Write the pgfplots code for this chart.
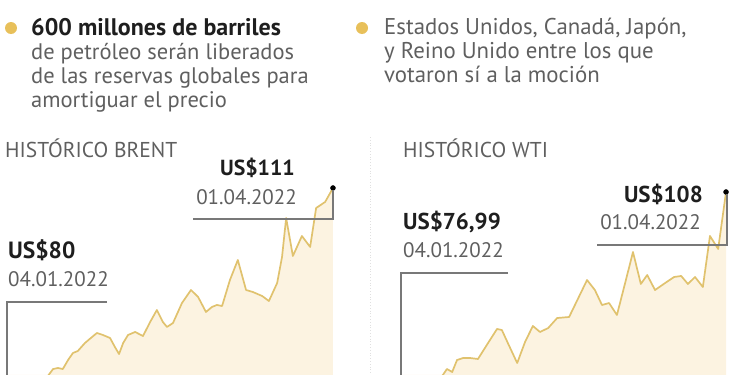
\documentclass[border=0pt]{standalone}
\usepackage{pgfplots}
\pgfplotsset{compat=1.18}
\usepackage{fontspec}
\setmainfont{PT Sans}
\definecolor{gold}{RGB}{224,194,110}
\definecolor{cream}{RGB}{252,243,225}
\definecolor{bullet}{RGB}{232,192,90}
\definecolor{txtgray}{RGB}{95,95,95}
\definecolor{txtdark}{RGB}{30,30,30}
\definecolor{rule}{RGB}{120,120,120}

\pgfplotstableread{
day price
0 80.00
6.1 81.07
10.7 83.41
12.3 84.57
13.6 84.72
14.9 84.57
16.3 85.89
17.6 86.91
18.9 87.20
20.8 88.37
22.7 89.25
24.0 89.83
25.6 89.54
27.5 89.10
28.8 87.79
29.9 86.76
31.0 88.37
32.3 89.54
34.2 89.98
36.3 89.39
38.2 91.44
40.0 93.19
41.6 91.44
42.7 90.71
44.3 91.29
46.7 94.21
49.1 96.11
51.0 95.09
53.1 92.90
54.7 93.63
56.0 93.92
57.4 93.77
59.5 97.57
61.6 100.49
63.8 96.11
65.6 95.82
68.1 95.23
69.9 94.50
72.1 97.13
73.4 100.93
74.5 106.62
76.3 101.07
78.7 103.99
80.9 102.39
82.5 108.08
84.9 108.96
87.0 111.00
}\brent

\pgfplotstableread{
day price
0 76.99
6.4 78.80
11.2 81.28
12.3 82.16
13.7 81.72
15.0 83.47
16.6 83.76
18.5 83.76
20.6 83.62
23.3 85.95
25.7 88.00
27.0 87.85
28.6 85.95
31.1 83.03
33.2 86.10
35.3 88.44
37.2 87.56
39.4 88.14
41.8 89.60
45.0 89.75
49.8 95.15
51.9 93.69
53.8 91.50
55.7 91.79
57.8 90.04
60.2 95.15
62.1 99.24
64.2 94.57
65.9 95.88
68.0 93.69
70.7 94.71
73.1 95.59
75.0 95.74
76.8 94.57
78.7 95.59
80.8 94.13
82.7 101.58
84.9 99.68
87.0 108.00
}\wti

\begin{document}
\begin{tikzpicture}
% Brent data
\begin{axis}[at={(7pt,0pt)}, anchor=south west, width=340pt, height=375pt,
  scale only axis, xmin=0, xmax=90.74, ymin=83.698, ymax=138.448,
  hide axis, clip=true]
  \addplot[fill=cream, draw=none] table[x=day,y=price] {\brent} \closedcycle;
  \addplot[gold, line width=1.7pt, line join=round] table[x=day,y=price] {\brent};
\end{axis}
% WTI data
\begin{axis}[at={(401pt,0pt)}, anchor=south west, width=340pt, height=375pt,
  scale only axis, xmin=0, xmax=91.01, ymin=81.282, ymax=136.032,
  hide axis, clip=true]
  \addplot[fill=cream, draw=none] table[x=day,y=price] {\wti} \closedcycle;
  \addplot[gold, line width=1.7pt, line join=round] table[x=day,y=price] {\wti};
\end{axis}
% end dots (unclipped)
\begin{axis}[at={(7pt,0pt)}, anchor=south west, width=340pt, height=375pt,
  scale only axis, xmin=0, xmax=90.74, ymin=83.698, ymax=138.448,
  hide axis, clip=false]
  \addplot[only marks, mark=*, mark size=2.5pt, black] coordinates {(87,111)};
\end{axis}
\begin{axis}[at={(401pt,0pt)}, anchor=south west, width=340pt, height=375pt,
  scale only axis, xmin=0, xmax=91.01, ymin=81.282, ymax=136.032,
  hide axis, clip=false]
  \addplot[only marks, mark=*, mark size=2.5pt, black] coordinates {(87,108)};
\end{axis}
% layout overlay in pixel coordinates
\begin{axis}[at={(0pt,0pt)}, anchor=south west, width=750pt, height=375pt,
  scale only axis, xmin=0, xmax=750, ymin=0, ymax=375, y dir=reverse,
  hide axis, clip=false]
  % bullets
  \fill[bullet] (axis cs:11,28) circle[radius=6pt];
  \fill[bullet] (axis cs:362,28) circle[radius=6pt];
  % left text block
  \node[anchor=base west, inner sep=0, text=txtdark, font=\fontsize{24}{26}\selectfont\bfseries] at (axis cs:31,35) {600 millones de barriles};
  \node[anchor=base west, inner sep=0, text=txtgray, font=\fontsize{22.5}{26}\selectfont] at (axis cs:31,59) {de petróleo serán liberados};
  \node[anchor=base west, inner sep=0, text=txtgray, font=\fontsize{22.5}{26}\selectfont] at (axis cs:31,83) {de las reservas globales para};
  \node[anchor=base west, inner sep=0, text=txtgray, font=\fontsize{22.5}{26}\selectfont] at (axis cs:31,107) {amortiguar el precio};
  % right text block
  \node[anchor=base west, inner sep=0, text=txtgray, font=\fontsize{22.8}{26}\selectfont] at (axis cs:384,34) {Estados Unidos, Canadá, Japón,};
  \node[anchor=base west, inner sep=0, text=txtgray, font=\fontsize{22.8}{26}\selectfont] at (axis cs:384,58) {y Reino Unido entre los que};
  \node[anchor=base west, inner sep=0, text=txtgray, font=\fontsize{22.8}{26}\selectfont] at (axis cs:384,82) {votaron sí a la moción};
  % separator
  \draw[black!12, dotted, line width=0.8pt] (axis cs:370,137) -- (axis cs:370,375);
  % Brent annotations
  \node[anchor=base west, inner sep=0, text=txtgray, font=\fontsize{21.5}{24}\selectfont] at (axis cs:5,157) {HISTÓRICO BRENT};
  \node[anchor=base east, inner sep=0, text=txtdark, font=\fontsize{21.8}{26}\selectfont\bfseries] at (axis cs:295,175) {US\$111};
  \node[anchor=base east, inner sep=0, text=txtgray, font=\fontsize{21}{26}\selectfont] at (axis cs:297,204) {01.04.2022};
  \node[anchor=base west, inner sep=0, text=txtdark, font=\fontsize{23.5}{26}\selectfont\bfseries] at (axis cs:8,258) {US\$80};
  \node[anchor=base west, inner sep=0, text=txtgray, font=\fontsize{21}{26}\selectfont] at (axis cs:8,286) {04.01.2022};
  \draw[rule, line width=1.4pt] (axis cs:193,219) -- (axis cs:333,219) -- (axis cs:333,190);
  \draw[rule, line width=1.4pt] (axis cs:107,302) -- (axis cs:7,302) -- (axis cs:7,376);
  % WTI annotations
  \node[anchor=base west, inner sep=0, text=txtgray, font=\fontsize{21.5}{24}\selectfont] at (axis cs:403,157) {HISTÓRICO WTI};
  \node[anchor=base west, inner sep=0, text=txtdark, font=\fontsize{23}{26}\selectfont\bfseries] at (axis cs:403,229) {US\$76,99};
  \node[anchor=base west, inner sep=0, text=txtgray, font=\fontsize{21}{26}\selectfont] at (axis cs:403,257) {04.01.2022};
  \node[anchor=base east, inner sep=0, text=txtdark, font=\fontsize{23}{26}\selectfont\bfseries] at (axis cs:703,202) {US\$108};
  \node[anchor=base east, inner sep=0, text=txtgray, font=\fontsize{21}{26}\selectfont] at (axis cs:701,229) {01.04.2022};
  \draw[rule, line width=1.4pt] (axis cs:597,245) -- (axis cs:727,245) -- (axis cs:727,194);
  \draw[rule, line width=1.4pt] (axis cs:508,273) -- (axis cs:401,273) -- (axis cs:401,376);
\end{axis}
\pgfresetboundingbox
\useasboundingbox (0pt,0pt) rectangle (750pt,375pt);
\end{tikzpicture}
\end{document}
